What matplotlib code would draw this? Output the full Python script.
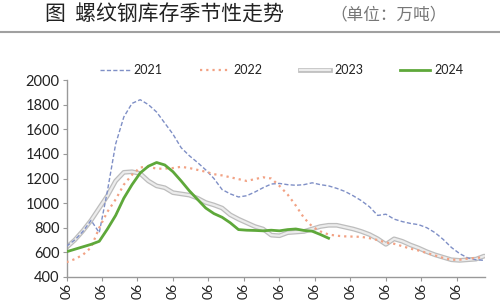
import numpy as np
import matplotlib
matplotlib.use("Agg")
import matplotlib.pyplot as plt

plt.rcParams['font.family'] = ['Lato', 'Noto Sans CJK SC', 'DejaVu Sans']

title = "图  螺纹钢库存季节性走势"
unit = "（单位：万吨）"
series_names = ["2021", "2022", "2023", "2024"]
month_labels = ["06"] * 12

v2021 = [650, 700, 770, 860, 760, 1100, 1480, 1700, 1810, 1840, 1800, 1740, 1650,
         1560, 1450, 1385, 1330, 1270, 1200, 1110, 1075, 1050, 1060, 1090, 1125,
         1155, 1160, 1150, 1145, 1150, 1165, 1150, 1140, 1120, 1095, 1060, 1020,
         970, 900, 910, 870, 850, 835, 825, 800, 760, 705, 640, 590, 555, 540, 535]
v2022 = [520, 545, 580, 640, 800, 930, 1030, 1150, 1230, 1290, 1295, 1280, 1280,
         1285, 1295, 1285, 1270, 1255, 1235, 1225, 1210, 1195, 1180, 1195, 1210,
         1200, 1140, 1070, 980, 880, 810, 770, 745, 735, 730, 728, 726, 715, 700,
         680, 670, 650, 630, 615, 595, 575, 555, 540, 540, 550, 555, 560]
v2023 = [640, 700, 775, 860, 960, 1060, 1180, 1250, 1255, 1240, 1180, 1140, 1125,
         1085, 1075, 1065, 1040, 1005, 985, 960, 905, 870, 840, 810, 790, 740, 735,
         760, 765, 770, 790, 810, 820, 820, 805, 790, 770, 745, 710, 665, 710, 690,
         660, 635, 605, 580, 560, 540, 535, 540, 545, 570]
v2024 = [605, 625, 645, 665, 690, 790, 900, 1040, 1150, 1245, 1300, 1330, 1310,
         1255, 1180, 1100, 1030, 960, 915, 885, 840, 785, 780, 778, 775, 780, 775,
         785, 790, 778, 772, 745, 715]

fig = plt.figure(figsize=(5, 3), dpi=100)
ax = fig.add_axes([0.133, 0.0767, 0.837, 0.6566])

weeks_per_month = 52 / 12

def xs(v):
    return np.arange(len(v))

h21, = ax.plot(xs(v2021), v2021, color="#7f8fc6", lw=1.0, ls=(0, (3, 1.6)), zorder=3)
h22, = ax.plot(xs(v2022), v2022, color="#f2a284", lw=1.6, ls=(0, (1, 1.8)), zorder=3)
# 2023: outlined gray line
ax.plot(xs(v2023), v2023, color="#bdbdbd", lw=3.4, solid_capstyle="round", zorder=2)
ax.plot(xs(v2023), v2023, color="#ececec", lw=1.6, solid_capstyle="round", zorder=2)
h23, = ax.plot([], [], color="#bdbdbd", lw=3.4)
h23b, = ax.plot([], [], color="#ececec", lw=1.6)
h24, = ax.plot(xs(v2024), v2024, color="#5ea83a", lw=2.0, zorder=4)

ax.set_xlim(0, 51.1)
ax.set_ylim(400, 2000)
ax.set_yticks(np.arange(400, 2001, 200))
ticks = np.arange(12) * weeks_per_month
ax.set_xticks(ticks)
ax.set_xticklabels(month_labels, rotation=90, fontsize=10, color="#222222")
ax.tick_params(axis='y', labelsize=10.5, colors="#222222", length=3, width=0.8, pad=2)
ax.tick_params(axis='x', length=3, width=0.8, pad=1)
ax.tick_params(axis='both', color="#999999")
for s in ["top", "right"]:
    ax.spines[s].set_visible(False)
for s in ["left", "bottom"]:
    ax.spines[s].set_color("#999999")
    ax.spines[s].set_linewidth(1.0)

handles = [h21, h22, (h23, h23b), h24]
leg = fig.legend(handles, series_names, loc="center", bbox_to_anchor=(0.563, 0.765),
                 ncol=4, frameon=False, fontsize=9, handlelength=2.4, columnspacing=3.0,
                 handletextpad=0.3)
for t in leg.get_texts():
    t.set_color("#222222")

fig.text(0.09, 0.95, title, fontsize=15, family=['Noto Sans CJK SC', 'DejaVu Sans'],
         color="#222222", va="center", ha="left")
fig.text(0.66, 0.95, unit, fontsize=12, family=['Noto Sans CJK SC', 'DejaVu Sans'],
         color="#777777", va="center", ha="left")
fig.add_artist(plt.Line2D([0, 1], [0.893, 0.893], transform=fig.transFigure,
                          color="#a0a0a0", lw=1.5))

fig.savefig("out.png", dpi=100)
